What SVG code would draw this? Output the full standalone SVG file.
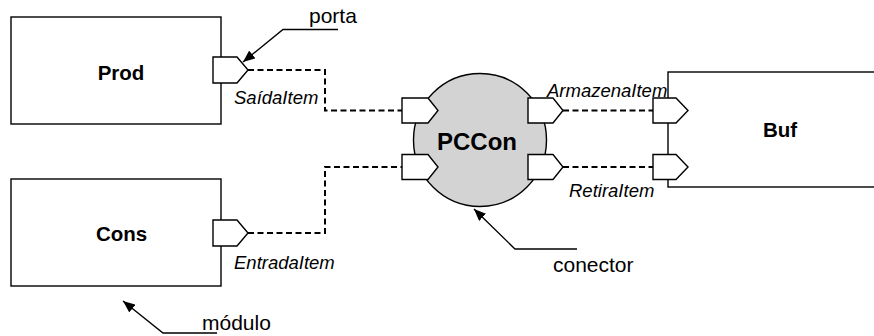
<svg xmlns="http://www.w3.org/2000/svg" width="874" height="336" viewBox="0 0 874 336">
  <style>
    .box { fill: #ffffff; stroke: #000000; stroke-width: 1.4; }
    .port { fill: #ffffff; stroke: #000000; stroke-width: 1.4; stroke-linejoin: miter; }
    .link { fill: none; stroke: #000000; stroke-width: 2; stroke-dasharray: 6 3.5; }
    .lead { fill: none; stroke: #000000; stroke-width: 1.4; }
    .name { font-family: "Liberation Sans", Arial, sans-serif; font-weight: bold; font-size: 20.5px; fill: #000000; text-anchor: middle; }
    .pname { font-family: "Liberation Sans", Arial, sans-serif; font-style: italic; font-size: 18.5px; fill: #000000; }
    .note { font-family: "Liberation Sans", Arial, sans-serif; font-size: 21px; fill: #000000; }
  </style>
  <defs>
    <marker id="arrow" viewBox="0 0 12 10" refX="12" refY="5" markerWidth="12" markerHeight="10" markerUnits="userSpaceOnUse" orient="auto">
      <path d="M0,0 L12,5 L0,10 Z" fill="#000000"/>
    </marker>
  </defs>

  <!-- dashed bindings between ports -->
  <g id="connectors">
    <path class="link" d="M248,70 H325 V110.5 H402"/>
    <path class="link" d="M248,233 H325 V167 H402"/>
    <path class="link" d="M563,110.5 H653"/>
    <path class="link" d="M563,167 H653"/>
  </g>

  <g id="prod">
    <rect class="box" x="11" y="17" width="210" height="107"/>
    <text class="name" x="121" y="80">Prod</text>
    <polygon class="port" points="213,57 237,57 248,70 237,83 213,83"/>
    <text class="pname" x="234" y="104">SaídaItem</text>
  </g>

  <g id="cons">
    <rect class="box" x="11" y="179" width="210" height="107"/>
    <text class="name" x="121.5" y="241">Cons</text>
    <polygon class="port" points="213,220 237,220 248,233 237,246 213,246"/>
    <text class="pname" x="234" y="269">EntradaItem</text>
  </g>

  <g id="pccon">
    <circle cx="480" cy="140" r="66.5" fill="#d3d3d3" stroke="#000000" stroke-width="1.4"/>
    <text class="name" x="477" y="149.5" style="font-size:24px">PCCon</text>
    <polygon class="port" points="402,98 428,98 438,110.5 428,123 402,123"/>
    <polygon class="port" points="402,154.5 428,154.5 438,167 428,179.5 402,179.5"/>
    <polygon class="port" points="528,98 553,98 563,110.5 553,123 528,123"/>
    <polygon class="port" points="528,154.5 553,154.5 563,167 553,179.5 528,179.5"/>
    <text class="pname" x="547" y="96.5">ArmazenaItem</text>
    <text class="pname" x="569" y="197">RetiraItem</text>
  </g>

  <g id="buf">
    <rect class="box" x="668" y="72" width="210" height="115"/>
    <text class="name" x="780" y="137">Buf</text>
    <polygon class="port" points="653,98 676,98 688,110.5 676,123 653,123"/>
    <polygon class="port" points="653,154.5 676,154.5 688,167 676,179.5 653,179.5"/>
  </g>

  <!-- callouts -->
  <g id="note-porta">
    <polyline class="lead" points="338,29.5 283,29.5 243,62" marker-end="url(#arrow)"/>
    <text class="note" x="309" y="23">porta</text>
  </g>
  <g id="note-conector">
    <polyline class="lead" points="577,249 515,249 474,209" marker-end="url(#arrow)"/>
    <text class="note" x="553" y="272">conector</text>
  </g>
  <g id="note-modulo">
    <polyline class="lead" points="217,333 163,333 123,301" marker-end="url(#arrow)"/>
    <text class="note" x="202" y="330">módulo</text>
  </g>
</svg>
